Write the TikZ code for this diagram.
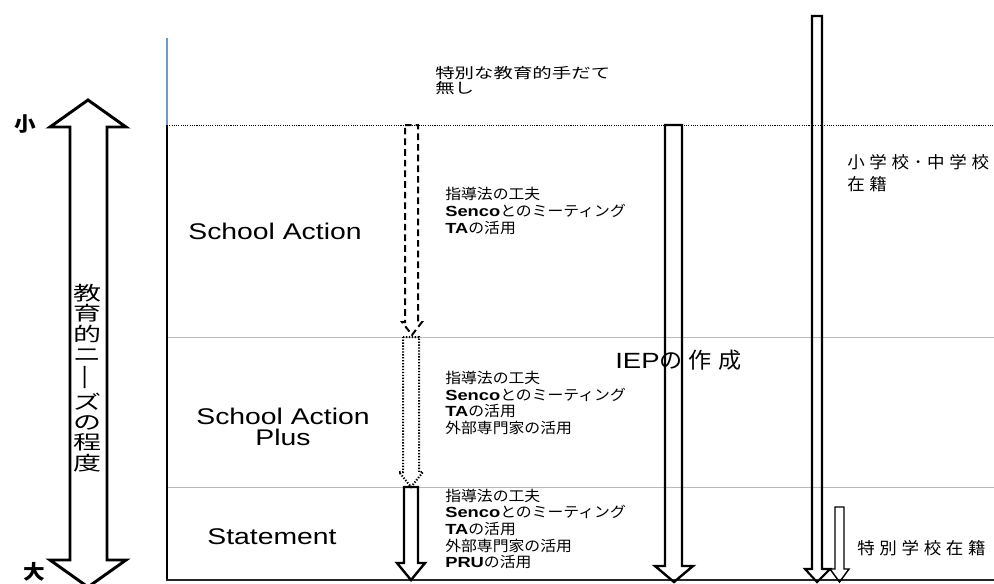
\documentclass[tikz,border=0pt]{standalone}
\usepackage{fontspec}
\setmainfont[FakeStretch=1.25]{Liberation Sans}
\newfontfamily\jp[FakeStretch=1.08]{Noto Sans CJK JP}
\newfontfamily\jps[FakeStretch=1.35]{Noto Sans CJK JP}
\newfontfamily\jpv[FakeStretch=1.45]{Noto Sans CJK JP}
\newfontfamily\jpw[FakeStretch=1.05,LetterSpace=28]{Noto Sans CJK JP}
\tikzset{
  outl/.style={draw=black, line width=1.8pt, line join=miter},
  dashedarrow/.style={draw=black, line width=1.5pt, dash pattern=on 5pt off 3pt},
  dottedarrow/.style={draw=black, line width=1.5pt, dash pattern=on 1pt off 1.2pt},
  grayline/.style={draw=gray!55, line width=0.6pt},
  dotline/.style={draw=black, line width=0.7pt, dash pattern=on 0.8pt off 0.9pt},
  level/.style={inner sep=0pt, align=center, font=\fontsize{17}{15.5}\selectfont},
  items/.style={inner sep=0pt, anchor=west, align=left, font=\jp\fontsize{11}{12.5}\selectfont},
  note/.style={inner sep=0pt, anchor=west, align=left},
}
\newcommand{\lb}[1]{{\rmfamily\bfseries #1}}
\begin{document}
\begin{tikzpicture}[x=0.75pt,y=-0.75pt]
\useasboundingbox (0,0) rectangle (994,583);
% frame
\draw[draw={rgb,255:red,110;green,150;blue,210}, line width=0.8pt] (167,38) -- (167,125);
\draw[dotline] (167,125) -- (994,125);
\draw[grayline] (167,337) -- (994,337);
\draw[grayline] (167,487) -- (994,487);
\draw[black, line width=1.5pt] (167,125) -- (167,580);
\draw[black!85, line width=2.2pt] (166,580) -- (994,580);
% left double arrow
\draw[outl, line width=2.2pt] (70,127) -- (50,127) -- (88,100) -- (126,127) -- (107,127) -- (107,560) -- (126,560) -- (88,587) -- (50,560) -- (70,560) -- cycle;
\node[inner sep=0pt, align=center, font=\jpv\fontsize{14.5}{15.2}\selectfont] (need) at (88,378) {教\\育\\的\\ニ\\\rotatebox[origin=c]{90}{ー}\\ズ\\の\\程\\度};
\node[inner sep=0pt, font=\jp\bfseries\fontsize{15}{15}\selectfont] (small) at (25,124) {小};
\node[inner sep=0pt, font=\jp\bfseries\fontsize{15}{15}\selectfont] (large) at (34,572) {大};
% arrows
\draw[dashedarrow] (405,125) -- (418,125) -- (418,322) -- (422,322) -- (412,335) -- (402,322) -- (405,322) -- cycle;
\draw[dottedarrow] (403,337) -- (419,337) -- (419,472) -- (423,472) -- (411,487) -- (399,472) -- (403,472) -- cycle;
\draw[outl] (404,487) -- (418,487) -- (418,563) -- (425,563) -- (411,580) -- (397,563) -- (404,563) -- cycle;
\draw[outl] (665,125) -- (682,125) -- (682,566) -- (693,566) -- (674,582) -- (655,566) -- (665,566) -- cycle;
\draw[outl, line width=1.6pt] (812,16) -- (822,16) -- (822,569) -- (830,569) -- (817,582) -- (805,569) -- (812,569) -- cycle;
\draw[outl, line width=1.1pt] (835,507) -- (844,507) -- (844,569) -- (849,569) -- (839.5,582) -- (830,569) -- (835,569) -- cycle;
% level labels
\node[level] (sa) at (275,231) {School Action};
\node[level] (sap) at (283,427) {School Action\\Plus};
\node[level] (st) at (272,537) {Statement};
% item lists
\node[note, font=\jps\fontsize{10.8}{11.4}\selectfont] (none) at (435,80.5) {特別な教育的手だて\\無し};
\node[items] (i1) at (445,211) {指導法の工夫\\\lb{Senco}とのミーティング\\\lb{TA}の活用};
\node[items] (i2) at (445,403) {指導法の工夫\\\lb{Senco}とのミーティング\\\lb{TA}の活用\\外部専門家の活用};
\node[items] (i3) at (445,529) {指導法の工夫\\\lb{Senco}とのミーティング\\\lb{TA}の活用\\外部専門家の活用\\\lb{PRU}の活用};
\node[note, font=\fontsize{16.5}{16}\selectfont] (iep) at (615,360) {IEP{\jpw の作成}};
\node[note, font=\jpw\fontsize{12.5}{16}\selectfont] (reg) at (847,173) {小学校･中学校\\在籍};
\node[note, font=\jpw\fontsize{12.5}{16}\selectfont] (sp) at (857,548) {特別学校在籍};
\end{tikzpicture}
\end{document}
